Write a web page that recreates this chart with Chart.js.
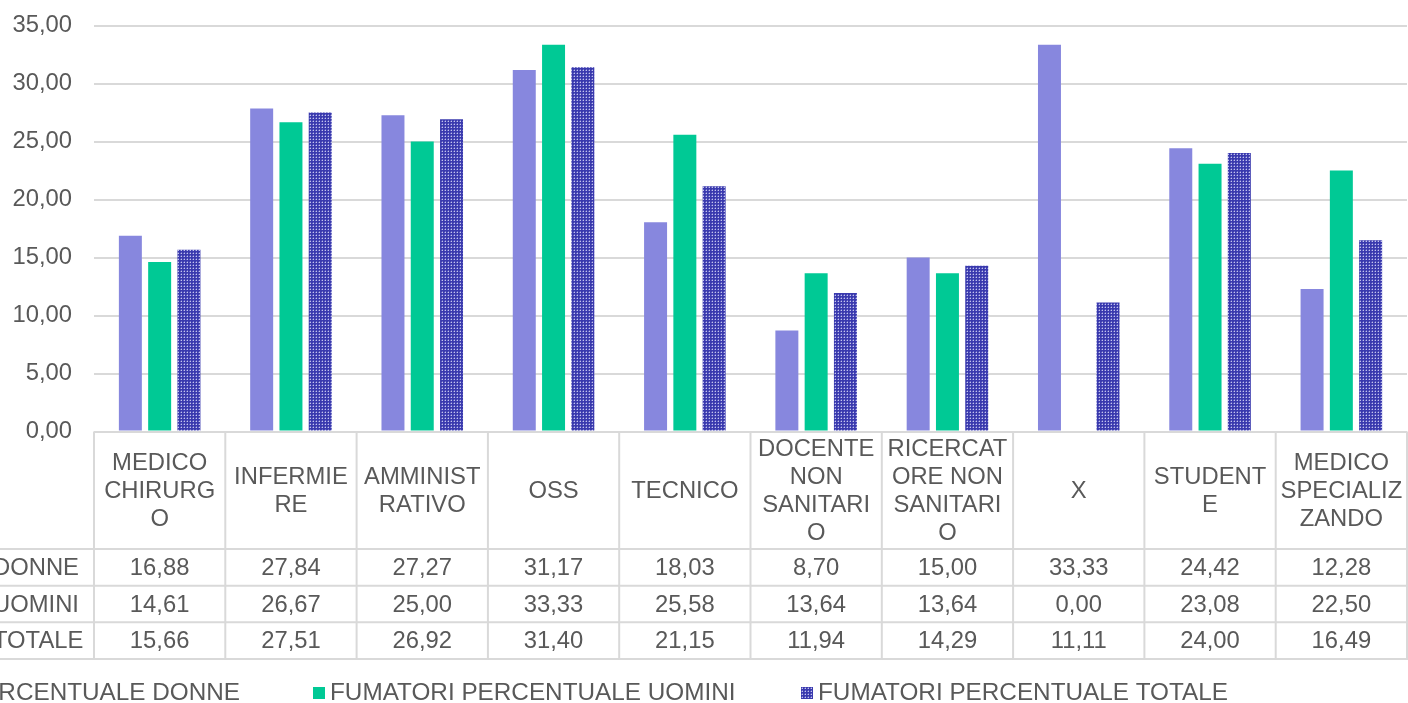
<!DOCTYPE html>
<html><head><meta charset="utf-8">
<script src="https://cdn.jsdelivr.net/npm/chart.js@4/dist/chart.umd.min.js"></script>
<style>html,body{margin:0;padding:0;background:#fff;overflow:hidden}#wrap{position:absolute;left:0;top:0;width:1408px;height:703px}</style>
</head><body><div id="wrap"><canvas id="c" width="1408" height="703"></canvas></div>
<script>
const categories = ["MEDICO CHIRURGO","INFERMIERE","AMMINISTRATIVO","OSS","TECNICO","DOCENTE NON SANITARIO","RICERCATORE NON SANITARIO","X","STUDENTE","MEDICO SPECIALIZZANDO"];
const categoryLines = [["MEDICO","CHIRURG","O"],["INFERMIE","RE"],["AMMINIST","RATIVO"],["OSS"],["TECNICO"],["DOCENTE","NON","SANITARI","O"],["RICERCAT","ORE NON","SANITARI","O"],["X"],["STUDENT","E"],["MEDICO","SPECIALIZ","ZANDO"]];
const seriesNames = ["FUMATORI PERCENTUALE DONNE","FUMATORI PERCENTUALE UOMINI","FUMATORI PERCENTUALE TOTALE"];
const donne  = [16.88,27.84,27.27,31.17,18.03,8.70,15.00,33.33,24.42,12.28];
const uomini = [14.61,26.67,25.00,33.33,25.58,13.64,13.64,0.00,23.08,22.50];
const totale = [15.66,27.51,26.92,31.40,21.15,11.94,14.29,11.11,24.00,16.49];
const yTicks = [0,5,10,15,20,25,30,35];

const FONT = '"Liberation Sans", Arial, sans-serif';
const TXT = '#595959';
const GRID = '#d9d9d9';
const canvas = document.getElementById('c');
const mainCtx = canvas.getContext('2d');

function makePattern(){
  const p = document.createElement('canvas'); p.width = 3; p.height = 3;
  const g = p.getContext('2d');
  g.fillStyle = '#3a3aae'; g.fillRect(0,0,3,3);
  g.fillStyle = '#c4c4ee'; g.fillRect(1,1,1,1);
  g.fillStyle = '#6a6ac6'; g.fillRect(1,0,1,1); g.fillRect(0,1,1,1);
  return mainCtx.createPattern(p,'repeat');
}
const pattern = makePattern();
const colors = ['#8787de','#00c995',pattern];
const seriesData = [donne, uomini, totale];
const fmt = v => Number(v).toFixed(2).replace('.',',');

const tablePlugin = {
  id:'dataTable',
  afterDraw(chart){
    const ctx = chart.ctx, a = chart.chartArea, xs = chart.scales.x;
    const n = categories.length, cw = xs.width / n;
    const top = a.bottom, hdrB = top + 117.5, rh = 36.67;
    const rowY = [hdrB, hdrB+rh, hdrB+2*rh, hdrB+3*rh];
    ctx.save();
    ctx.strokeStyle = GRID; ctx.lineWidth = 2;
    rowY.forEach(y => { ctx.beginPath(); ctx.moveTo(-500,y); ctx.lineTo(xs.right+1,y); ctx.stroke(); });
    for (let i = 0; i <= n; i++){
      const x = xs.getPixelForValue(Math.min(i,n-1)) + (i<n ? -cw/2 : cw/2);
      ctx.beginPath(); ctx.moveTo(x, top); ctx.lineTo(x, rowY[3]+1); ctx.stroke();
    }
    ctx.fillStyle = TXT;
    ctx.font = '23.8px ' + FONT;
    ctx.textAlign = 'center'; ctx.textBaseline = 'middle';
    const hc = (top + hdrB)/2 + 1, lh = 28;
    categoryLines.forEach((lines,i) => {
      const cx = xs.getPixelForValue(i);
      lines.forEach((t,k) => ctx.fillText(t, cx, hc + (k - (lines.length-1)/2)*lh));
    });
    seriesData.forEach((arr,r) => {
      const cy = (rowY[r] + rowY[r+1])/2 + 1;
      arr.forEach((v,i) => ctx.fillText(fmt(v), xs.getPixelForValue(i), cy));
    });
    ctx.textAlign = 'left';
    const prefixW = ctx.measureText('FUMATORI PERCENTUALE ').width;
    seriesNames.forEach((s,r) => {
      const cy = (rowY[r] + rowY[r+1])/2 + 1;
      ctx.fillText(s, -7 - prefixW, cy);
    });
    ctx.font = '24.3px ' + FONT;
    const lx = [null, 313, 801];
    const ly = 693;
    const w0 = ctx.measureText(seriesNames[0]).width;
    lx[0] = 240 - w0 - 17;
    seriesNames.forEach((s,i) => {
      ctx.fillStyle = colors[i];
      ctx.fillRect(lx[i], ly-6, 12, 12);
      ctx.fillStyle = TXT;
      ctx.fillText(s, lx[i] + 17, ly);
    });
    ctx.restore();
  }
};

new Chart(mainCtx, {
  type: 'bar',
  data: {
    labels: categories,
    datasets: seriesNames.map((s,i) => ({label: s, data: seriesData[i], backgroundColor: colors[i], borderWidth: 0}))
  },
  options: {
    responsive: false, animation: false,
    layout: {padding: {top: 25.5, bottom: 271.5, left: 0, right: 1}},
    plugins: {legend: {display: false}, tooltip: {enabled: false}},
    datasets: {bar: {categoryPercentage: 0.669, barPercentage: 0.785}},
    scales: {
      x: {display: false},
      y: {
        min: 0, max: 35,
        afterBuildTicks: s => { s.ticks = yTicks.map(v => ({value: v})); },
        afterFit: s => { s.width = 94; s.paddingTop = 0; s.paddingBottom = 0; },
        grid: {color: GRID, lineWidth: 2, drawTicks: false},
        border: {display: false},
        ticks: {padding: 22, color: TXT, font: {family: FONT, size: 23.8}, callback: v => fmt(v)}
      }
    }
  },
  plugins: [tablePlugin]
});
</script>
</body></html>
